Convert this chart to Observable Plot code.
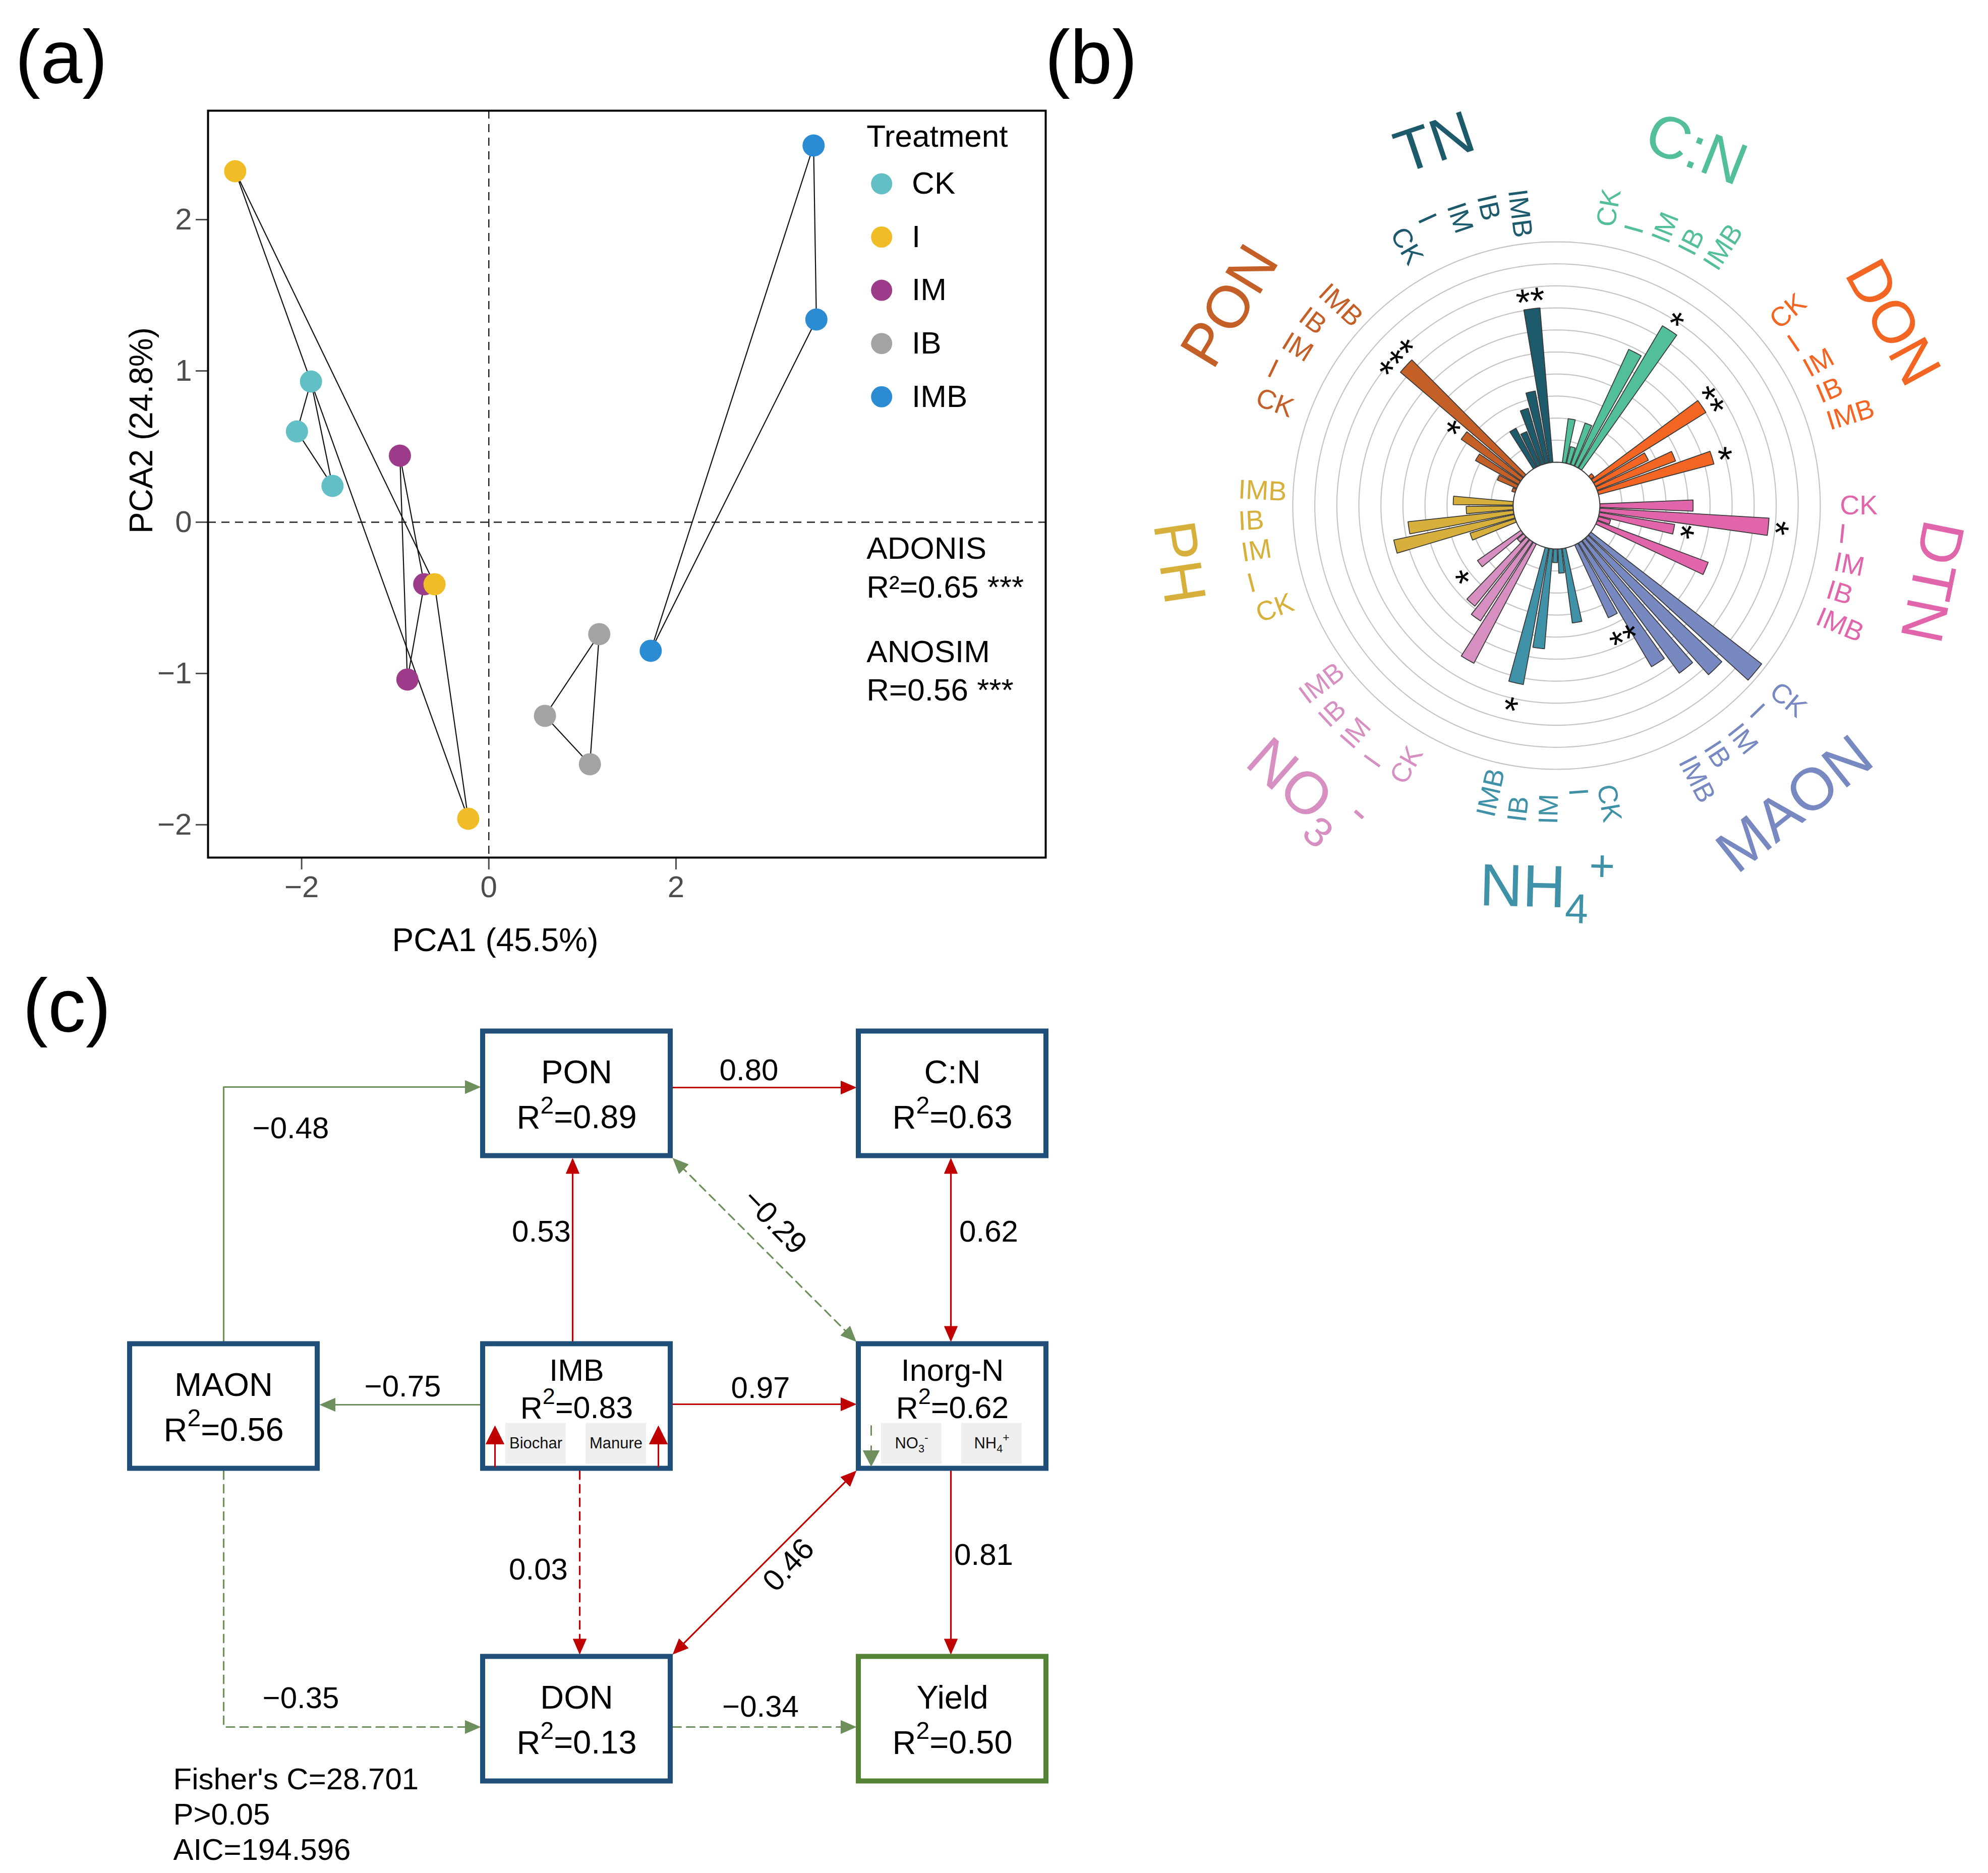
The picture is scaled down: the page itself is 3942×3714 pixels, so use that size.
<!DOCTYPE html>
<html>
<head>
<meta charset="utf-8">
<script src="https://cdn.jsdelivr.net/npm/d3@7"></script>
<script src="https://cdn.jsdelivr.net/npm/@observablehq/plot@0.6"></script>
<style>
html,body{margin:0;padding:0;background:#fff;overflow:hidden;}
#root{position:relative;width:3942px;height:3714px;background:#fff;font-family:"Liberation Sans",Arial,sans-serif;overflow:hidden;}
#root svg{overflow:visible !important;max-width:none !important;background:transparent !important;}
.panel{position:absolute;}
.plab{position:absolute;font-size:150px;line-height:1;color:#000;font-family:"Liberation Sans",Arial,sans-serif;}
.pca g[aria-label="x-axis"] line,.pca g[aria-label="y-axis"] line,
.pca g[aria-label="x-axis tick"] path,.pca g[aria-label="y-axis tick"] path{stroke-width:3px;}
</style>
</head>
<body>
<div id="root"></div>
<script>
// ======================= DATA =======================
// --- panel (a): PCA scores ---
const treatments = ["CK", "I", "IM", "IB", "IMB"];
const treatmentColors = ["#62bfc6", "#f0bc27", "#9c3b8a", "#a3a3a3", "#2b8bd3"];
const pcaTreatment = ["CK","CK","CK","IM","IM","IM","IB","IB","IB","IMB","IMB","IMB","I","I","I"];
const pc1 = [-1.90, -2.05, -1.67,  -0.95, -0.69, -0.87,  1.18, 0.60, 1.08,  3.47, 3.50, 1.73,  -2.71, -0.58, -0.22];
const pc2 = [ 0.93,  0.60,  0.24,   0.44, -0.41, -1.04, -0.74, -1.28, -1.60, 2.49, 1.34, -0.85,  2.32, -0.41, -1.96];
const pc1Label = "PCA1 (45.5%)";
const pc2Label = "PCA2 (24.8%)";
const xTicks = [-2, 0, 2];
const yTicks = [-2, -1, 0, 1, 2];
const adonisR2 = 0.65, adonisSig = "***";
const anosimR = 0.56, anosimSig = "***";

// --- panel (b): circular bar chart (bar length in grid-ring units) ---
const variables = ["TN", "C:N", "DON", "DTN", "MAON", "NH4+", "NO3-", "PH", "PON"];
const variableLabels = ["TN", "C:N", "DON", "DTN", "MAON", "NH_{4}^{+}", "NO_{3}^{-}", "PH", "PON"];
const variableColors = ["#1d5a6b", "#52bf99", "#f36523", "#e065ab", "#7888c1", "#3e91a7", "#d68fc0", "#d6b03a", "#c35f27"];
const valTN   = [1.99, 1.65, 2.63, 3.32, 7.03];
const valCN   = [2.01, 0.78, 1.99, 5.84, 7.50];
const valDON  = [0.18, 6.02, 2.68, 3.80, 5.42];
const valDTN  = [4.23, 7.69, 3.46, 0.57, 5.38];
const valMAON = [9.79, 8.35, 7.46, 6.52, 3.64];
const valNH4  = [3.41, 1.10, 0.62, 4.55, 6.29];
const valNO3  = [6.11, 4.30, 3.91, 0.37, 2.40];
const valPH   = [2.15, 5.58, 4.81, 2.13, 2.72];
const valPON  = [0.16, 0.96, 2.24, 3.30, 7.35];
const sigTN   = ["", "", "", "", "**"];
const sigCN   = ["", "", "", "", "*"];
const sigDON  = ["", "**", "", "", "*"];
const sigDTN  = ["", "*", "*", "", ""];
const sigMAON = ["", "", "", "", "**"];
const sigNH4  = ["", "", "", "", "*"];
const sigNO3  = ["", "", "", "", "*"];
const sigPH   = ["", "", "", "", ""];
const sigPON  = ["", "", "", "*", "***"];

// --- panel (c): path model ---
const nodeNames = ["PON", "C:N", "MAON", "IMB", "Inorg-N", "DON", "Yield"];
const nodeR2    = [0.89, 0.63, 0.56, 0.83, 0.62, 0.13, 0.50];
const pathFrom  = ["MAON","PON","IMB","PON","C:N","IMB","IMB","IMB","Inorg-N","Inorg-N","MAON","DON"];
const pathTo    = ["PON","C:N","PON","Inorg-N","Inorg-N","MAON","Inorg-N","DON","DON","Yield","DON","Yield"];
const pathCoef  = [-0.48, 0.80, 0.53, -0.29, 0.62, -0.75, 0.97, 0.03, 0.46, 0.81, -0.35, -0.34];
const pathSignificant = [true, true, true, false, true, true, true, false, true, true, false, false];
const pathTwoWay      = [false, false, false, true, true, false, false, false, true, false, false, false];
const imbParts   = ["Biochar", "Manure"];
const inorgParts = ["NO_{3}^{-}", "NH_{4}^{+}"];
const fitStats = ["Fisher's C=28.701", "P>0.05", "AIC=194.596"];

// ======================= HELPERS =======================
const FONT = "Liberation Sans, Arial, sans-serif";
const root = document.getElementById("root");
function place(el, left, top, cls) {
  const d = document.createElement("div");
  d.className = cls || "panel";
  d.style.left = left + "px"; d.style.top = top + "px";
  d.appendChild(el); root.appendChild(d); return d;
}
// converts ^{..} and _{..} markup inside texts into real tspans
function richText(svg) {
  svg.querySelectorAll("text").forEach(t => {
    const targets = t.querySelector("tspan") ? [...t.querySelectorAll("tspan")] : [t];
    for (const el of targets) {
      const s = el.textContent;
      if (!/[\^_]\{/.test(s)) continue;
      const parts = []; const re = /([\^_])\{([^}]*)\}/g; let last = 0, m;
      while ((m = re.exec(s))) {
        if (m.index > last) parts.push({t: s.slice(last, m.index), k: 0});
        parts.push({t: m[2], k: m[1] === "^" ? 1 : -1}); last = re.lastIndex;
      }
      if (last < s.length) parts.push({t: s.slice(last), k: 0});
      el.textContent = "";
      let shift = 0;
      for (const p of parts) {
        const ts = document.createElementNS("http://www.w3.org/2000/svg", "tspan");
        const target = p.k === 1 ? -0.46 : p.k === -1 ? 0.26 : 0;
        const fs = p.k === 1 ? 0.74 : p.k === -1 ? 0.7 : 1;
        if (p.k) ts.setAttribute("font-size", (fs * 100) + "%");
        const d = target - shift;
        if (Math.abs(d) > 1e-6) ts.setAttribute("dy", (d / fs).toFixed(3) + "em");
        shift = target;
        ts.textContent = p.t;
        el.appendChild(ts);
      }
    }
  });
}
const minus = v => (v < 0 ? "\u2212" : "") + Math.abs(v).toFixed(2);
const intFmt = v => (v < 0 ? "\u2212" : "") + Math.abs(v);

// ======================= PANEL (a) =======================
{
  const samples = pcaTreatment.map((t, i) => ({treatment: t, pc1: pc1[i], pc2: pc2[i]}));
  const hulls = treatments.flatMap(t => {
    const pts = samples.filter(d => d.treatment === t);
    return [...pts, pts[0]].map(d => ({...d}));
  });
  const LEG = {titleX: 4.036, titleY: 2.483, dotX: 4.197, textX: 4.52, y0: 2.237, step: 0.352};
  const svg = Plot.plot({
    width: 2100, height: 1950,
    marginLeft: 412, marginRight: 27, marginTop: 219, marginBottom: 250,
    style: {fontFamily: FONT, fontSize: "60px", color: "#4d4d4d", background: "transparent"},
    x: {domain: [-3.0, 5.95], ticks: xTicks, tickFormat: intFmt, tickSize: 24, tickPadding: 12, label: null},
    y: {domain: [-2.217, 2.72], ticks: yTicks, tickFormat: intFmt, tickSize: 24, tickPadding: 8, label: null},
    color: {domain: treatments, range: treatmentColors},
    marks: [
      Plot.ruleX([0], {stroke: "#222", strokeWidth: 2.5, strokeDasharray: "16,11"}),
      Plot.ruleY([0], {stroke: "#222", strokeWidth: 2.5, strokeDasharray: "16,11"}),
      Plot.line(hulls, {x: "pc1", y: "pc2", z: "treatment", stroke: "#111", strokeWidth: 2.2}),
      Plot.dot(samples, {x: "pc1", y: "pc2", fill: "treatment", r: 22}),
      Plot.frame({stroke: "#000", strokeWidth: 4}),
      Plot.text(["Treatment"], {x: () => LEG.titleX, y: () => LEG.titleY, text: d => d, textAnchor: "start", lineAnchor: "bottom", fontSize: 62, fill: "#000"}),
      Plot.dot(treatments, {x: () => LEG.dotX, y: (d, i) => LEG.y0 - i * LEG.step, fill: d => d, r: 21}),
      Plot.text(treatments, {x: () => LEG.textX, y: (d, i) => LEG.y0 - i * LEG.step, text: d => d, textAnchor: "start", lineAnchor: "middle", fontSize: 62, fill: "#000"}),
      Plot.text([`ADONIS\nR\u00b2=${adonisR2.toFixed(2)} ${adonisSig}`], {x: () => LEG.titleX, y: () => -0.497, text: d => d, textAnchor: "start", lineAnchor: "bottom", lineHeight: 1.24, fontSize: 62, fill: "#000"}),
      Plot.text([`ANOSIM\nR=${anosimR.toFixed(2)} ${anosimSig}`], {x: () => LEG.titleX, y: () => -1.18, text: d => d, textAnchor: "start", lineAnchor: "bottom", lineHeight: 1.24, fontSize: 62, fill: "#000"}),
      Plot.text([pc1Label], {frameAnchor: "bottom", dx: -261, dy: 165, text: d => d, lineAnchor: "middle", fontSize: 64, fill: "#000"}),
      Plot.text([pc2Label], {frameAnchor: "left", dx: -131, dy: 98, rotate: -90, text: d => d, lineAnchor: "middle", fontSize: 64, fill: "#000"})
    ]
  });
  svg.classList.add("pca");
  place(svg, 0, 0);
}

// ======================= PANEL (b) =======================
{
  const radialSeries = [valTN, valCN, valDON, valDTN, valMAON, valNH4, valNO3, valPH, valPON];
  const sigSeries = [sigTN, sigCN, sigDON, sigDTN, sigMAON, sigNH4, sigNO3, sigPH, sigPON];
  const P = {R0: 1.968, slot: 360 / 63, theta0: -30, barFrac: 0.82, rightLabelR: 12.86, leftLabelR: 14.46,
             groupLabelR: 17.35, nRings: 10, left: 2212, top: 128, xDomain: [-20, 19.5], yDomain: [-20, 20], unit: 43.7};
  const norm = a => ((a % 360) + 360) % 360;
  const pol = (r, deg) => { const t = deg * Math.PI / 180; return {x: r * Math.sin(t), y: r * Math.cos(t)}; };
  const isFlip = a => { a = norm(a); return a > 105 && a < 285; };
  const tang = a => { a = norm(a); return isFlip(a) ? a - 180 : (a >= 285 ? a - 360 : a); };

  const bars = [];
  variables.forEach((v, g) => treatments.forEach((t, k) => {
    bars.push({variable: v, treatment: t, g, k, angle: P.theta0 + (7 * g + k) * P.slot,
               value: radialSeries[g][k], sig: sigSeries[g][k], color: variableColors[g]});
  }));
  const hw = P.slot * P.barFrac / 2;
  const barPolys = bars.flatMap((b, i) => {
    const n = 6, pts = [];
    for (let j = 0; j <= n; j++) pts.push(pol(P.R0, b.angle - hw + 2 * hw * j / n));
    for (let j = n; j >= 0; j--) pts.push(pol(P.R0 + b.value, b.angle - hw + 2 * hw * j / n));
    pts.push(pts[0]);
    return pts.map(p => ({...p, id: i, color: b.color}));
  });
  const rings = d3.range(1, P.nRings + 1).flatMap(k => d3.range(0, 361, 1).map(a => ({...pol(P.R0 + k, a), k})));
  const disc = d3.range(0, 361, 5).map(a => pol(P.R0, a));
  const tLabels = bars.map(b => {
    const a = norm(b.angle), right = a < 180;
    return {...pol(right ? P.rightLabelR : P.leftLabelR, a), text: b.treatment, color: b.color, rotate: right ? a - 90 : a - 270};
  });
  const gLabels = variables.map((v, g) => {
    const a = P.theta0 + (7 * g + 2) * P.slot;
    return {...pol(P.groupLabelR, a), text: variableLabels[g], color: variableColors[g], rotate: tang(a)};
  });
  const stars = bars.filter(b => b.sig).map(b => {
    const r = P.R0 + b.value + (isFlip(b.angle) ? 1.3 : 0.3);
    return {...pol(r, b.angle), text: b.sig, rotate: tang(b.angle)};
  });
  const W = Math.round((P.xDomain[1] - P.xDomain[0]) * P.unit), H = Math.round((P.yDomain[1] - P.yDomain[0]) * P.unit);
  const svg = Plot.plot({
    width: W, height: H, margin: 0,
    style: {fontFamily: FONT, background: "transparent"},
    x: {domain: P.xDomain, axis: null}, y: {domain: P.yDomain, axis: null},
    color: {type: "identity"},
    marks: [
      Plot.line(rings, {x: "x", y: "y", z: "k", stroke: "#c4c4c4", strokeWidth: 2.2}),
      Plot.line(barPolys, {x: "x", y: "y", z: "id", fill: "color", stroke: "#3a3a3a", strokeWidth: 1.8}),
      Plot.line(disc, {x: "x", y: "y", fill: "white", stroke: "#3a3a3a", strokeWidth: 2}),
      Plot.text(tLabels, {x: "x", y: "y", text: "text", fill: "color", rotate: "rotate", textAnchor: "start", lineAnchor: "middle", fontSize: 54}),
      Plot.text(gLabels, {x: "x", y: "y", text: "text", fill: "color", rotate: "rotate", textAnchor: "middle", lineAnchor: "middle", fontSize: 118}),
      Plot.text(stars, {x: "x", y: "y", text: "text", fill: "#000", rotate: "rotate", textAnchor: "middle", lineAnchor: "middle", fontSize: 74})
    ]
  });
  richText(svg);
  place(svg, P.left, P.top);
}

// ======================= PANEL (c) =======================
{
  const RED = "#c00000", GREEN = "#6c8f5c", BLUE = "#1f4e79", DKGREEN = "#548235";
  const D = {left: 0, top: 1950, width: 2150, height: 1764, hw: 186, hh: 123.5, border: 10,
    pos: {"PON": [1143, 2168], "C:N": [1888, 2168], "MAON": [443, 2788], "IMB": [1143, 2788],
          "Inorg-N": [1888, 2788], "DON": [1143, 3408], "Yield": [1888, 3408]},
    headLen: 30, headHalf: 13};
  const EDGE_LAYOUT = [
    {elbow: true, fromPort: "t", toPort: "l", off: -13, label: [133, 82]},
    {fromPort: "r", toPort: "l", off: -12, label: [-31, -34]},
    {fromPort: "t", toPort: "b", off: -8, label: [-62, -36]},
    {fromPort: "br", toPort: "tl", off: 0, label: [20, -56], rotate: 46},
    {fromPort: "b", toPort: "t", off: -3, label: [75, -36]},
    {fromPort: "l", toPort: "r", off: -3, label: [5, -36]},
    {fromPort: "r", toPort: "l", off: -4, label: [-8, -32]},
    {fromPort: "b", toPort: "t", off: 6, label: [-82, 14]},
    {fromPort: "bl", toPort: "tr", off: 0, label: [48, 5], rotate: -47},
    {fromPort: "b", toPort: "t", off: -3, label: [65, -15]},
    {elbow: true, fromPort: "b", toPort: "l", off: 16, label: [153, -57]},
    {fromPort: "r", toPort: "l", off: 16, label: [-8, -40]}
  ];
  const nodes = nodeNames.map((name, i) => {
    const [cx, cy] = D.pos[name];
    return {name, r2: nodeR2[i], cx, cy, x1: cx - D.hw, x2: cx + D.hw, y1: cy - D.hh, y2: cy + D.hh,
            stroke: name === "Yield" ? DKGREEN : BLUE, small: name === "IMB" || name === "Inorg-N"};
  });
  const nodeMap = Object.fromEntries(nodes.map(n => [n.name, n]));
  const ox = D.hw + D.border / 2, oy = D.hh + D.border / 2;
  function port(n, p, off = 0) {
    switch (p) {
      case "t": return [n.cx + off, n.cy - oy];
      case "b": return [n.cx + off, n.cy + oy];
      case "l": return [n.cx - ox, n.cy + off];
      case "r": return [n.cx + ox, n.cy + off];
      case "tl": return [n.cx - ox, n.cy - oy];
      case "tr": return [n.cx + ox, n.cy - oy];
      case "bl": return [n.cx - ox, n.cy + oy];
      case "br": return [n.cx + ox, n.cy + oy];
    }
  }
  function head(tip, prev, id, color, len, half) {
    const dx = tip[0] - prev[0], dy = tip[1] - prev[1], l = Math.hypot(dx, dy), ux = dx / l, uy = dy / l;
    const bx = tip[0] - ux * len, by = tip[1] - uy * len;
    return [[tip[0], tip[1]], [bx - uy * half, by + ux * half], [bx + uy * half, by - ux * half], [tip[0], tip[1]]]
      .map(([x, y]) => ({x, y, id, color}));
  }
  function shorten(a, b, d) {
    const dx = b[0] - a[0], dy = b[1] - a[1], l = Math.hypot(dx, dy);
    return [b[0] - dx / l * d, b[1] - dy / l * d];
  }
  const shafts = [], heads = [], labels = [];
  pathFrom.forEach((f, i) => {
    const A = nodeMap[f], B = nodeMap[pathTo[i]], L = EDGE_LAYOUT[i];
    const color = pathCoef[i] >= 0 ? RED : GREEN;
    let pts, anchor;
    if (L.elbow) {
      const s = port(A, L.fromPort), yy = B.cy + L.off;
      const corner = [s[0], yy], end = [B.cx - ox, yy];
      pts = [s, corner, end]; anchor = corner;
    } else {
      const s = port(A, L.fromPort, L.off), t = port(B, L.toPort, L.off);
      pts = [s, t]; anchor = [(s[0] + t[0]) / 2, (s[1] + t[1]) / 2];
    }
    const n = pts.length;
    heads.push(...head(pts[n - 1], pts[n - 2], "h" + i, color, D.headLen, D.headHalf));
    if (pathTwoWay[i]) heads.push(...head(pts[0], pts[1], "g" + i, color, D.headLen, D.headHalf));
    const sp = pts.map(p => p.slice());
    sp[n - 1] = shorten(sp[n - 2], sp[n - 1], D.headLen * 0.7);
    if (pathTwoWay[i]) sp[0] = shorten(sp[1], sp[0], D.headLen * 0.7);
    sp.forEach(([x, y]) => shafts.push({x, y, id: i, color, sig: pathSignificant[i]}));
    labels.push({x: anchor[0] + L.label[0], y: anchor[1] + L.label[1], text: minus(pathCoef[i]), rotate: L.rotate || 0});
  });
  const SUB = {dx: [-81, 78], w: 120, h: 81, dy: 74, arrowDx: 162, arrowTop: 39, arrowBottom: 120};
  const subs = [
    ...imbParts.map((t, j) => ({node: "IMB", text: t, j})),
    ...inorgParts.map((t, j) => ({node: "Inorg-N", text: t, j}))
  ].map(s => {
    const n = nodeMap[s.node], cx = n.cx + SUB.dx[s.j], cy = n.cy + SUB.dy;
    return {...s, cx, cy, x1: cx - SUB.w / 2, x2: cx + SUB.w / 2, y1: cy - SUB.h / 2, y2: cy + SUB.h / 2};
  });
  const imb = nodeMap["IMB"], ino = nodeMap["Inorg-N"];
  const smallShafts = [], smallHeads = [];
  [-1, 1].forEach((side, j) => {
    const x = imb.cx + side * SUB.arrowDx, bottom = imb.cy + SUB.arrowBottom, top = imb.cy + SUB.arrowTop;
    smallShafts.push({x, y: bottom, id: "s" + j, color: RED}, {x, y: top + 20, id: "s" + j, color: RED});
    smallHeads.push(...head([x, top], [x, bottom], "sh" + j, RED, 36, 18));
  });
  const gx = ino.cx - SUB.arrowDx + 1, gTop = ino.cy + SUB.arrowTop, gBottom = ino.cy + SUB.arrowBottom - 1;
  const dashedSmall = [{x: gx, y: gTop, id: "d"}, {x: gx, y: gBottom - 20, id: "d"}];
  smallHeads.push(...head([gx, gBottom], [gx, gTop], "dh", GREEN, 31, 16));

  const FIT = {x: 343, y0: 3547, step: 70};
  const svg = Plot.plot({
    width: D.width, height: D.height, margin: 0,
    style: {fontFamily: FONT, background: "transparent"},
    x: {domain: [D.left, D.left + D.width], range: [0, D.width], axis: null},
    y: {domain: [D.top, D.top + D.height], range: [0, D.height], axis: null},
    color: {type: "identity"},
    marks: [
      Plot.line(shafts.filter(d => d.sig), {x: "x", y: "y", z: "id", stroke: "color", strokeWidth: 3.2}),
      Plot.line(shafts.filter(d => !d.sig), {x: "x", y: "y", z: "id", stroke: "color", strokeWidth: 3.2, strokeDasharray: "16,11"}),
      Plot.line(heads, {x: "x", y: "y", z: "id", fill: "color", stroke: "color", strokeWidth: 1}),
      Plot.rect(nodes, {x1: "x1", x2: "x2", y1: "y1", y2: "y2", fill: "white", stroke: "stroke", strokeWidth: D.border}),
      Plot.rect(subs, {x1: "x1", x2: "x2", y1: "y1", y2: "y2", fill: "#efefef"}),
      Plot.text(subs, {x: "cx", y: "cy", text: "text", fontSize: 31, lineAnchor: "middle", fill: "#111"}),
      Plot.line(smallShafts, {x: "x", y: "y", z: "id", stroke: "color", strokeWidth: 3}),
      Plot.line(dashedSmall, {x: "x", y: "y", z: "id", stroke: GREEN, strokeWidth: 3, strokeDasharray: "18,22"}),
      Plot.line(smallHeads, {x: "x", y: "y", z: "id", fill: "color", stroke: "color", strokeWidth: 1}),
      Plot.text(nodes.filter(n => !n.small), {x: "cx", y: d => d.cy - 21, text: "name", fontSize: 65, lineAnchor: "bottom", fill: "#000"}),
      Plot.text(nodes.filter(n => !n.small), {x: "cx", y: d => d.cy + 69, text: d => `R^{2}=${d.r2.toFixed(2)}`, fontSize: 65, lineAnchor: "bottom", fill: "#000"}),
      Plot.text(nodes.filter(n => n.small), {x: "cx", y: d => d.cy - 51, text: "name", fontSize: 61, lineAnchor: "bottom", fill: "#000"}),
      Plot.text(nodes.filter(n => n.small), {x: "cx", y: d => d.cy + 24, text: d => `R^{2}=${d.r2.toFixed(2)}`, fontSize: 61, lineAnchor: "bottom", fill: "#000"}),
      Plot.text(labels, {x: "x", y: "y", text: "text", rotate: "rotate", fontSize: 60, lineAnchor: "middle", fill: "#000"}),
      Plot.text(fitStats, {x: () => FIT.x, y: (d, i) => FIT.y0 + i * FIT.step, text: d => d, textAnchor: "start", lineAnchor: "bottom", fontSize: 60, fill: "#000"})
    ]
  });
  richText(svg);
  place(svg, D.left, D.top);
}

// ======================= PANEL LETTERS =======================
[["(a)", 30, 38], ["(b)", 2072, 38], ["(c)", 45, 1919]].forEach(([t, x, y]) => {
  const s = document.createElement("span"); s.textContent = t; place(s, x, y, "plab");
});
</script>
</body>
</html>
